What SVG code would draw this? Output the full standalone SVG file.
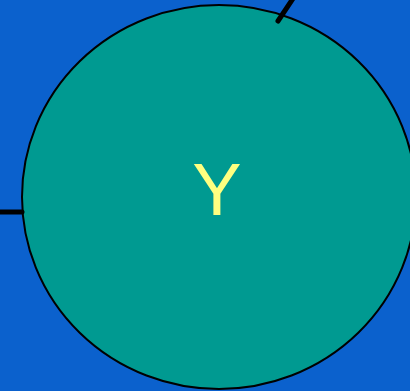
<svg xmlns="http://www.w3.org/2000/svg" width="410" height="391" viewBox="0 0 410 391">
<style>
.edge{stroke:#000;stroke-width:5;stroke-linecap:round;fill:none}
.lbl{font-family:"Liberation Sans",Arial,sans-serif;font-size:74px;fill:#ffff80;text-anchor:middle}
</style>
<rect width="410" height="391" fill="#0b61cd"/>
<g id="nodeY">
<ellipse cx="219" cy="197" rx="197" ry="192" fill="#009a91" stroke="#000" stroke-width="2"/>
<text class="lbl" x="217" y="215">Y</text>
</g>
<g id="connectors">
<line class="edge" x1="278" y1="21" x2="294" y2="-3"/>
<line class="edge" x1="-5" y1="212" x2="22" y2="212" stroke-linecap="butt"/>
</g>
</svg>
